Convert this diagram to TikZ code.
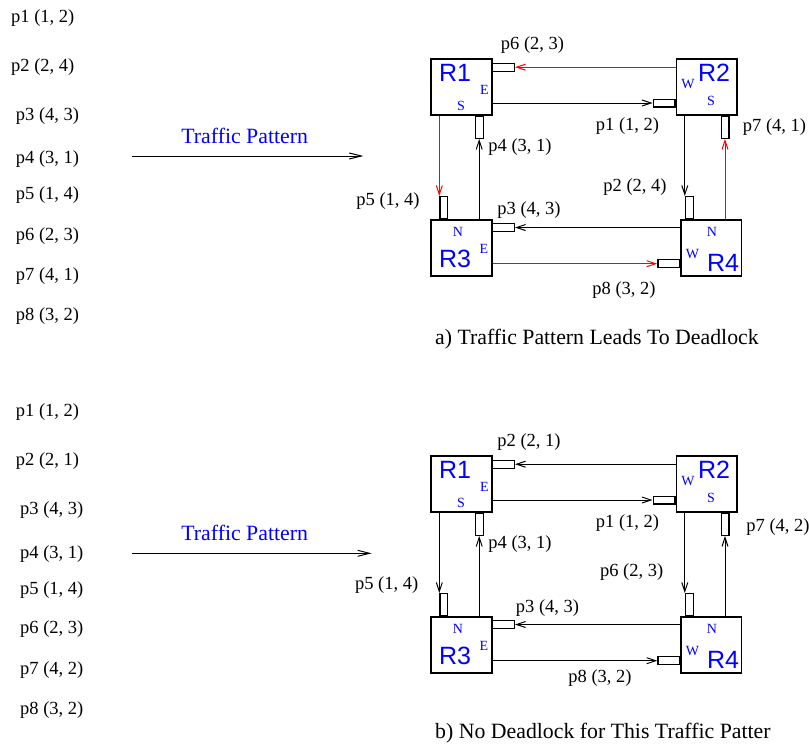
\documentclass[tikz,border=0pt]{standalone}
\usepackage{fontspec}
\setmainfont{Liberation Serif}
\setsansfont{Liberation Sans}
\usetikzlibrary{arrows.meta}

\tikzset{
  router/.style={draw, line width=1.6pt, minimum width=60.5pt, minimum height=56pt, inner sep=0pt},
  hbuf/.style={draw, line width=1.2pt, minimum width=21.8pt, minimum height=7.8pt, inner sep=0pt},
  vbuf/.style={draw, line width=1.2pt, minimum width=7.8pt, minimum height=21.8pt, inner sep=0pt},
  rname/.style={text=blue, inner sep=0pt, font=\sffamily\fontsize{25}{25}\selectfont},
  port/.style={text=blue, inner sep=0pt, font=\fontsize{14}{14}\selectfont},
  plabel/.style={inner sep=0pt, font=\fontsize{18.5}{20}\selectfont},
  biglabel/.style={inner sep=0pt, font=\fontsize{21.8}{24}\selectfont},
  link/.style={line width=1pt, -{Straight Barb[length=9pt,width=6pt]}},
  flow/.style={line width=1pt, -{Straight Barb[length=12pt,width=6pt]}},
}

\begin{document}
\begin{tikzpicture}[x=1pt,y=-1pt]
  \useasboundingbox (0,0) rectangle (809,744);

  % ---------- a) pattern list
  \node[plabel, anchor=west] (la1) at (11,18)    {p1 (1, 2)};
  \node[plabel, anchor=west] (la2) at (11,66.7)  {p2 (2, 4)};
  \node[plabel, anchor=west] (la3) at (15.7,115.7) {p3 (4, 3)};
  \node[plabel, anchor=west] (la4) at (15.7,159.3) {p4 (3, 1)};
  \node[plabel, anchor=west] (la5) at (15.7,195)   {p5 (1, 4)};
  \node[plabel, anchor=west] (la6) at (15.7,236)   {p6 (2, 3)};
  \node[plabel, anchor=west] (la7) at (15.7,276)   {p7 (4, 1)};
  \node[plabel, anchor=west] (la8) at (15.7,316)   {p8 (3, 2)};

  \node[biglabel, text=blue] (tpa) at (244.7,136) {Traffic Pattern};
  \coordinate (tpa-s) at (131.7,156);
  \coordinate (tpa-e) at (363.3,156);
  \draw[flow] (tpa-s) -- (tpa-e);

  % ---------- a) routers
  \node[router] (R1) at (461.5,87.2) {};
  \node[router] (R2) at (706.8,87.2) {};
  \node[router] (R3) at (461.5,247.8) {};
  \node[router] (R4) at (711.2,247.8) {};

  \node[rname] (R1n) at (455,72.5) {R1};
  \node[port]  (R1e) at (484.3,89.5) {E};
  \node[port]  (R1s) at (461,106) {S};
  \node[port]  (R2w) at (688,84) {W};
  \node[rname] (R2n) at (714,72.5) {R2};
  \node[port]  (R2s) at (711,101) {S};
  \node[port]  (R3n) at (458,232) {N};
  \node[rname] (R3t) at (455,259) {R3};
  \node[port]  (R3e) at (484,248.7) {E};
  \node[port]  (R4n) at (712,232) {N};
  \node[port]  (R4w) at (692.5,254) {W};
  \node[rname] (R4t) at (723,263) {R4};

  % buffers
  \node[hbuf] (p6buf) at (503.5,67.2) {};
  \node[hbuf] (p1buf) at (664,103) {};
  \node[vbuf] (p4buf) at (479.2,127.4) {};
  \node[vbuf] (p7buf) at (725,127.4) {};
  \node[vbuf] (p5buf) at (443.8,207.5) {};
  \node[vbuf] (p2buf) at (689.3,207.5) {};
  \node[hbuf] (p3buf) at (503.5,227.5) {};
  \node[hbuf] (p8buf) at (668.8,263.7) {};

  \draw[link, red] (R2.west |- p6buf) -- (p6buf.east);
  \draw[link] (R1.east |- p1buf) -- (p1buf.west);
  \draw[link, red] (R1.south -| p5buf.west) -- (p5buf.north west);
  \draw[link] (R3.north -| p4buf) -- (p4buf.south);
  \draw[link] (R2.south -| p2buf.west) -- (p2buf.north west);
  \draw[link, red] (R4.north -| p7buf) -- (p7buf.south);
  \draw[link] (R4.west |- p3buf) -- (p3buf.east);
  \draw[link, red] (R3.east |- p8buf) -- (p8buf.west);

  \node[plabel] (p6a) at (532.5,45.5) {p6 (2, 3)};
  \node[plabel] (p1a) at (627.5,126)  {p1 (1, 2)};
  \node[plabel] (p7a) at (774.5,127)  {p7 (4, 1)};
  \node[plabel] (p4a) at (520,147)    {p4 (3, 1)};
  \node[plabel] (p2a) at (635,187)    {p2 (2, 4)};
  \node[plabel] (p3a) at (529,210)    {p3 (4, 3)};
  \node[plabel] (p5a) at (388,201)    {p5 (1, 4)};
  \node[plabel] (p8a) at (624,290)    {p8 (3, 2)};

  \node[biglabel, anchor=west] (capa) at (435,339) {a) Traffic Pattern Leads To Deadlock};

  % ---------- b) pattern list
  \node[plabel, anchor=west] (lb1) at (15.7,412)   {p1 (1, 2)};
  \node[plabel, anchor=west] (lb2) at (15.7,461)   {p2 (2, 1)};
  \node[plabel, anchor=west] (lb3) at (20,510)     {p3 (4, 3)};
  \node[plabel, anchor=west] (lb4) at (20,554.3)   {p4 (3, 1)};
  \node[plabel, anchor=west] (lb5) at (20,590)     {p5 (1, 4)};
  \node[plabel, anchor=west] (lb6) at (20,629.3)   {p6 (2, 3)};
  \node[plabel, anchor=west] (lb7) at (20,670)     {p7 (4, 2)};
  \node[plabel, anchor=west] (lb8) at (20,710)     {p8 (3, 2)};

  \begin{scope}[shift={(0,397)}]
  \node[biglabel, text=blue] (tpb) at (244.7,136.3) {Traffic Pattern};
  \coordinate (tpb-s) at (131.7,156.3);
  \coordinate (tpb-e) at (371.7,156.3);
  \draw[flow] (tpb-s) -- (tpb-e);

  % ---------- b) routers
  \node[router] (bR1) at (461.5,87.2) {};
  \node[router] (bR2) at (706.8,87.2) {};
  \node[router] (bR3) at (461.5,247.8) {};
  \node[router] (bR4) at (711.2,247.8) {};

  \node[rname] (bR1n) at (455,72.5) {R1};
  \node[port]  (bR1e) at (484.3,89.5) {E};
  \node[port]  (bR1s) at (461,106) {S};
  \node[port]  (bR2w) at (688,84) {W};
  \node[rname] (bR2n) at (714,72.5) {R2};
  \node[port]  (bR2s) at (711,101) {S};
  \node[port]  (bR3n) at (458,232) {N};
  \node[rname] (bR3t) at (455,259) {R3};
  \node[port]  (bR3e) at (484,248.7) {E};
  \node[port]  (bR4n) at (712,232) {N};
  \node[port]  (bR4w) at (692.5,254) {W};
  \node[rname] (bR4t) at (723,263) {R4};

  % buffers
  \node[hbuf] (q2buf) at (503.5,67.2) {};
  \node[hbuf] (q1buf) at (664,103) {};
  \node[vbuf] (q4buf) at (479.2,127.4) {};
  \node[vbuf] (q7buf) at (725,127.4) {};
  \node[vbuf] (q5buf) at (443.8,207.5) {};
  \node[vbuf] (q6buf) at (689.3,207.5) {};
  \node[hbuf] (q3buf) at (503.5,227.5) {};
  \node[hbuf] (q8buf) at (668.8,263.7) {};

  \draw[link] (bR2.west |- q2buf) -- (q2buf.east);
  \draw[link] (bR1.east |- q1buf) -- (q1buf.west);
  \draw[link] (bR1.south -| q5buf.west) -- (q5buf.north west);
  \draw[link] (bR3.north -| q4buf) -- (q4buf.south);
  \draw[link] (bR2.south -| q6buf.west) -- (q6buf.north west);
  \draw[link] (bR4.north -| q7buf) -- (q7buf.south);
  \draw[link] (bR4.west |- q3buf) -- (q3buf.east);
  \draw[link] (bR3.east |- q8buf) -- (q8buf.west);

  \node[plabel] (q2b) at (529,44.7)    {p2 (2, 1)};
  \node[plabel] (q1b) at (627.5,126)   {p1 (1, 2)};
  \node[plabel] (q7b) at (778,129.7)   {p7 (4, 2)};
  \node[plabel] (q4b) at (520,147)     {p4 (3, 1)};
  \node[plabel] (q6b) at (631.7,174.7) {p6 (2, 3)};
  \node[plabel] (q3b) at (547.5,211)   {p3 (4, 3)};
  \node[plabel] (q5b) at (386.7,188)   {p5 (1, 4)};
  \node[plabel] (q8b) at (600,281)     {p8 (3, 2)};

  \node[biglabel, anchor=west] (capb) at (435,336.3) {b) No Deadlock for This Traffic Patter};
  \end{scope}
\end{tikzpicture}
\end{document}
